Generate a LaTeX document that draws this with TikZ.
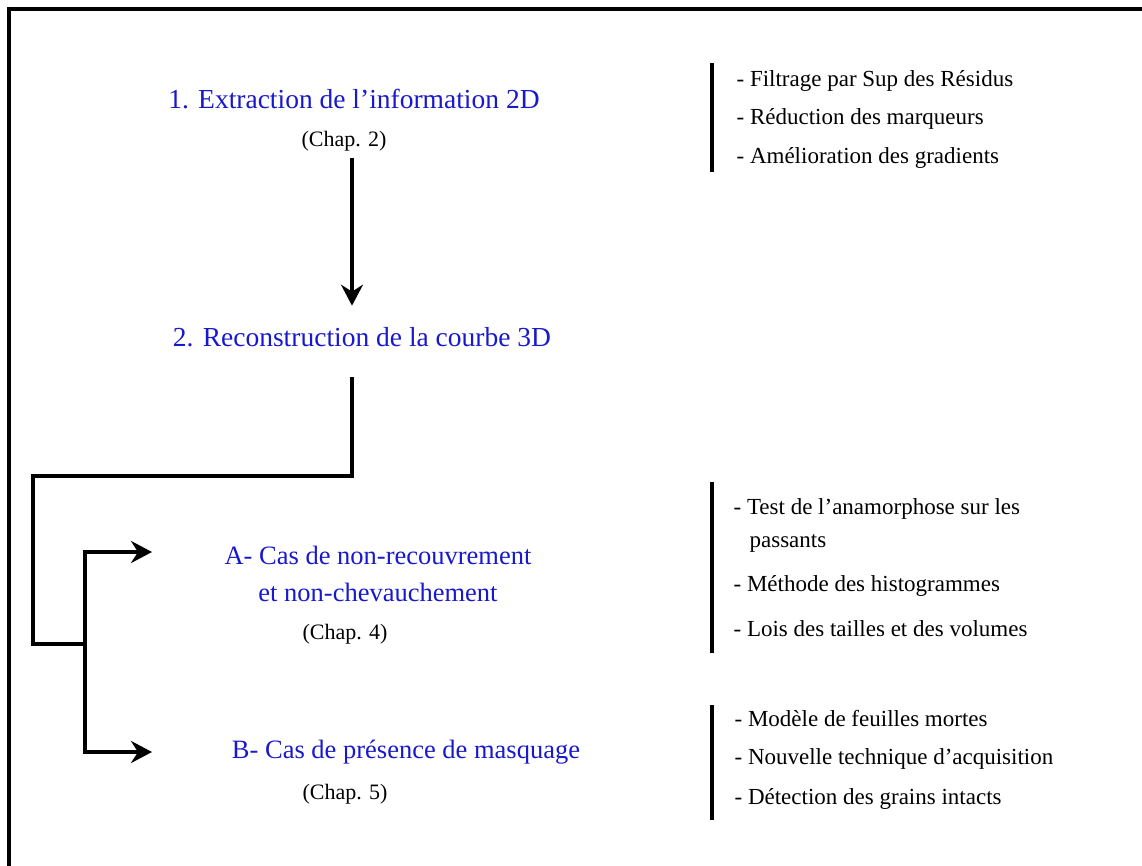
\documentclass[tikz,border=0pt]{standalone}
\usepackage{fontspec}
\setmainfont{Liberation Serif}
\usetikzlibrary{arrows.meta,positioning}
\definecolor{titleblue}{RGB}{24,24,204}

\begin{document}
\begin{tikzpicture}[x=1pt,y=-1pt,line width=3.2pt,
  arr/.style={-{Stealth[length=21pt,width=22pt,inset=7pt]}},
  title/.style={text=titleblue,font=\fontsize{27.5}{33}\selectfont,inner sep=0pt},
  case/.style={text=titleblue,font=\fontsize{26.5}{37}\selectfont,inner sep=0pt,align=center},
  chap/.style={font=\fontsize{22}{26}\selectfont,inner sep=0pt},
  item/.style={font=\fontsize{23}{28}\selectfont,inner sep=0pt,anchor=west},
  bar/.style={line width=4pt}]

\useasboundingbox (0,0) rectangle (1142,866);
\draw[line width=4pt] (8.5,880) -- (8.5,9) -- (1160,9);

\node[title](e1) at (354,99){1. Extraction de l'information 2D};
\node[chap](c2) at (344,141){(Chap. 2)};
\node[title](r2) at (362,337){2. Reconstruction de la courbe 3D};
\node[case](ca) at (378,574){A- Cas de non-recouvrement\\et non-chevauchement};
\node[chap](c4) at (345,634){(Chap. 4)};
\node[case](cb) at (406,752){B- Cas de présence de masquage};
\node[chap](c5) at (345,794){(Chap. 5)};

\node[item](f1) at (735,81){- Filtrage par Sup des Résidus};
\node[item](f2) at (735,119){- Réduction des marqueurs};
\node[item](f3) at (735,158){- Amélioration des gradients};
\node[item](t1) at (732,509){- Test de l'anamorphose sur les};
\node[item](t2) at (748,543){passants};
\node[item](t3) at (732,586){- Méthode des histogrammes};
\node[item](t4) at (732,629){- Lois des tailles et des volumes};
\node[item](m1) at (733,719){- Modèle de feuilles mortes};
\node[item](m2) at (733,759){- Nouvelle technique d'acquisition};
\node[item](m3) at (733,799){- Détection des grains intacts};

\coordinate (s1) at (33,476);
\coordinate (s2) at (85,644);
\coordinate (ea) at (152,552);
\coordinate (eb) at (152,752);

\draw[arr,shorten <=5pt,shorten >=20pt] ([xshift=8pt]c2.south) -- ([xshift=-10pt]r2.north);
\draw[shorten <=29pt] ([xshift=-10pt]r2.south) |- (s1) |- (s2);
\draw[arr] (s2) |- (ea);
\draw[arr] (s2) |- (eb);

\draw[bar] (712,63) -- (712,172);
\draw[bar] (712,482) -- (712,653);
\draw[bar] (712,705) -- (712,820);

\end{tikzpicture}
\end{document}
